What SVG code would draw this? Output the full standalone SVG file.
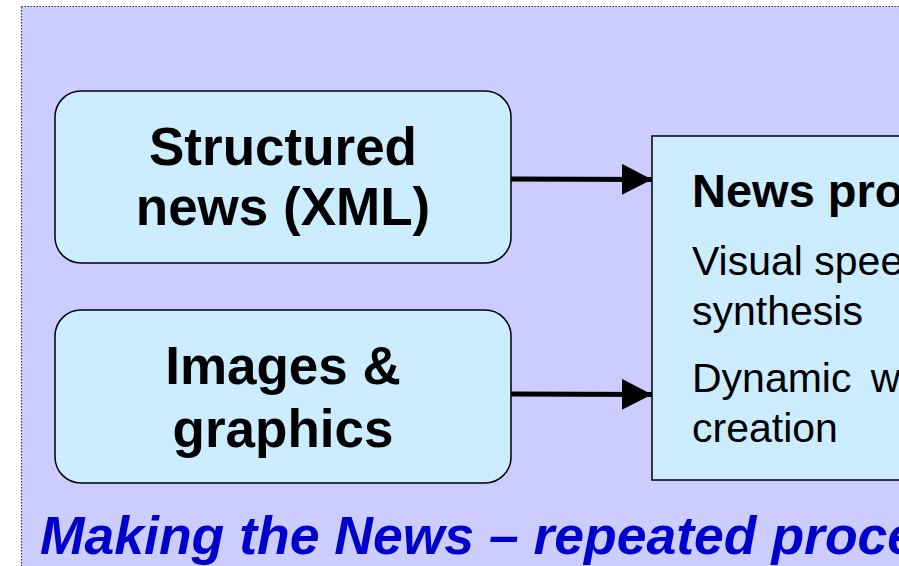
<svg xmlns="http://www.w3.org/2000/svg" width="899" height="566" viewBox="0 0 899 566">
<defs>
<style>
.bg{fill:#CCCCFF;stroke:#333;stroke-width:1.2;stroke-dasharray:1.5 1.5}
.box{fill:#CCECFF;stroke:#000;stroke-width:1.5}
.lbl{font-family:"Liberation Sans",Arial,sans-serif;font-weight:bold;font-size:53px;fill:#000;text-anchor:middle}
.head{font-family:"Liberation Sans",Arial,sans-serif;font-weight:bold;font-size:47px;fill:#000}
.body{font-family:"Liberation Sans",Arial,sans-serif;font-size:41px;fill:#000}
.title{font-family:"Liberation Sans",Arial,sans-serif;font-weight:bold;font-style:italic;font-size:53.5px;fill:#0000CC}
.conn{stroke:#000;stroke-width:5;fill:none}
</style>
<marker id="ah" markerUnits="userSpaceOnUse" markerWidth="30" markerHeight="31" refX="30" refY="15.5" orient="auto">
<path d="M0,0 L30,15.5 L0,31 Z" fill="#000"/>
</marker>
</defs>
<rect x="0" y="0" width="899" height="566" fill="#fff"/>
<rect class="bg" x="21.5" y="6.5" width="900" height="580"/>
<g id="structured-news">
<rect class="box" x="55" y="91" width="456" height="172" rx="26" ry="26"/>
<text class="lbl" x="283" y="165">Structured</text>
<text class="lbl" x="283" y="225">news (XML)</text>
</g>
<g id="images-graphics">
<rect class="box" x="55" y="310" width="456" height="173" rx="26" ry="26"/>
<text class="lbl" x="283" y="384">Images &amp;</text>
<text class="lbl" x="283" y="447">graphics</text>
</g>
<g id="news-processing">
<rect class="box" x="652" y="136" width="300" height="344"/>
<text class="head" x="692" y="207">News pro</text>
<text class="body" x="692" y="275">Visual spee</text>
<text class="body" x="692" y="325">synthesis</text>
<text class="body" x="692" y="392" word-spacing="8">Dynamic w</text>
<text class="body" x="692" y="442">creation</text>
</g>
<g id="connectors">
<line class="conn" x1="511" y1="179" x2="652" y2="179.5" marker-end="url(#ah)"/>
<line class="conn" x1="511" y1="394" x2="652" y2="394.5" marker-end="url(#ah)"/>
</g>
<text class="title" x="40" y="554">Making the News – repeated proce</text>
</svg>
